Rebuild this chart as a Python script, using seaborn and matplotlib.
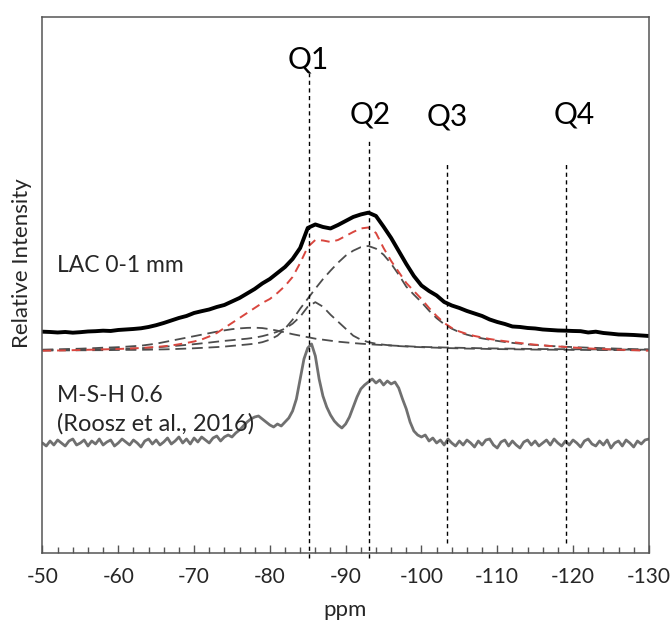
import numpy as np
import pandas as pd
import matplotlib
matplotlib.use("Agg")
import matplotlib.pyplot as plt
import seaborn as sns
from matplotlib.ticker import MultipleLocator

# ---------------------------------------------------------------- data
# chemical shift grid (ppm), 1 ppm steps for the LAC spectrum and the fit
ppm = list(range(-50, -131, -1))

# LAC 0-1 mm, measured 29Si spectrum (offset above the fit)
lac = [221.3, 221.0, 220.5, 221.0, 220.3, 220.8, 221.5, 221.8, 222.3, 222.0,
       223.0, 223.5, 224.0, 224.7, 226.0, 227.8, 230.0, 232.5, 235.0, 237.0,
       240.0, 241.8, 243.5, 246.0, 248.0, 251.5, 255.0, 259.5, 264.0, 269.5,
       274.0, 280.0, 286.0, 294.0, 305.0, 325.0, 328.5, 326.0, 324.5, 328.0,
       332.0, 336.0, 338.5, 340.3, 337.0, 326.3, 315.0, 302.0, 289.0, 277.0,
       267.5, 262.0, 257.5, 251.0, 247.5, 245.0, 242.0, 239.5, 237.0, 233.5,
       231.0, 229.0, 226.5, 226.0, 225.0, 224.5, 223.5, 223.0, 222.5, 222.3,
       222.0, 221.8, 220.5, 221.3, 220.0, 219.3, 218.5, 218.3, 218.0, 217.5,
       217.0]

# fitted envelope (red dashed)
fit_sum = [202.3, 202.4, 202.5, 202.6, 202.8, 203.0, 203.2, 203.4, 203.6, 203.8,
           204.0, 204.3, 204.6, 205.0, 205.5, 206.0, 206.7, 207.5, 208.7, 210.0,
           211.5, 213.5, 216.5, 220.0, 225.0, 230.0, 235.0, 240.0, 245.0, 250.0,
           254.0, 260.0, 267.0, 276.0, 290.0, 306.0, 313.0, 312.5, 311.0, 313.0,
           317.0, 321.0, 324.5, 325.5, 320.0, 305.0, 292.0, 281.0, 270.0, 262.0,
           254.0, 245.0, 237.0, 230.0, 225.0, 221.5, 219.0, 217.0, 215.5, 214.0,
           212.8, 211.8, 210.8, 210.0, 209.0, 208.3, 207.7, 207.0, 206.5, 206.0,
           205.5, 205.0, 204.6, 204.2, 203.9, 203.6, 203.3, 203.0, 202.8, 202.5,
           202.3]

# individual fit components (grey dashed), baseline of the fit = 202.3
fit_base = 202.3
comp_q1a = [1.0, 1.2, 1.4, 1.6, 1.8, 2.0, 2.3, 2.6, 3.0, 3.2,
            3.5, 4.0, 4.5, 5.0, 6.0, 7.0, 8.5, 10.0, 11.5, 13.0,
            14.5, 16.0, 17.5, 19.0, 20.3, 21.5, 22.3, 22.8, 23.0, 22.6,
            21.5, 20.0, 18.3, 16.5, 15.0, 13.5, 12.0, 11.0, 10.0, 9.0,
            8.3, 7.6, 7.0, 6.5, 6.0, 5.6, 5.2, 4.8, 4.5, 4.1,
            3.8, 3.6, 3.4, 3.2, 3.0, 2.9, 2.7, 2.6, 2.4, 2.3,
            2.2, 2.1, 2.0, 1.9, 1.8, 1.7, 1.6, 1.6, 1.5, 1.5,
            1.4, 1.4, 1.3, 1.3, 1.2, 1.2, 1.1, 1.1, 1.0, 1.0,
            1.0]
comp_q1b = [0.5, 0.6, 0.7, 0.8, 0.9, 1.0, 1.2, 1.3, 1.5, 1.6,
            1.8, 2.0, 2.2, 2.5, 2.9, 3.3, 3.9, 4.5, 5.1, 5.8,
            6.5, 7.3, 8.1, 9.0, 9.8, 10.5, 11.3, 12.0, 13.0, 14.5,
            16.5, 19.0, 22.0, 27.0, 34.0, 44.0, 48.5, 44.0, 36.0, 29.0,
            22.0, 15.0, 11.0, 8.5, 7.0, 6.0, 5.2, 4.6, 4.2, 3.8,
            3.5, 3.2, 3.0, 2.7, 2.5, 2.3, 2.1, 2.0, 1.9, 1.7,
            1.6, 1.5, 1.4, 1.3, 1.2, 1.1, 1.0, 1.0, 0.9, 0.9,
            0.8, 0.8, 0.7, 0.7, 0.6, 0.6, 0.6, 0.5, 0.5, 0.5,
            0.4]
comp_q2 = [0.2, 0.2, 0.3, 0.3, 0.3, 0.4, 0.4, 0.5, 0.5, 0.6,
           0.7, 0.8, 0.8, 0.9, 1.0, 1.2, 1.3, 1.5, 1.8, 2.1,
           2.4, 2.8, 3.2, 3.6, 4.1, 4.8, 5.5, 6.2, 7.0, 8.5,
           11.0, 15.0, 22.0, 31.0, 42.0, 52.0, 62.0, 71.5, 80.0, 88.0,
           95.0, 100.0, 103.5, 104.7, 102.0, 96.0, 87.0, 76.0, 64.0, 56.0,
           48.5, 40.0, 32.5, 26.5, 22.0, 18.5, 16.0, 14.0, 12.3, 11.0,
           9.8, 8.7, 7.8, 7.0, 6.3, 5.7, 5.2, 4.7, 4.3, 3.9,
           3.6, 3.3, 3.0, 2.8, 2.5, 2.3, 2.0, 1.8, 1.6, 1.4,
           1.3]

# M-S-H 0.6 reference spectrum (Roosz et al., 2016), 0.5 ppm steps
msh_ppm = [-50 - 0.5 * i for i in range(161)]
msh = [110, 107, 112, 108, 113, 110, 107, 112, 114, 108,
       110, 113, 107, 112, 109, 114, 108, 111, 113, 107,
       110, 114, 111, 108, 113, 110, 106, 112, 114, 109,
       113, 108, 111, 115, 109, 112, 116, 110, 114, 109,
       115, 111, 116, 113, 110, 115, 117, 112, 116, 118,
       116, 120, 123, 127, 131, 134, 136, 137, 134, 131,
       128, 126, 129, 127, 131, 135, 142, 154, 174, 194,
       205, 209, 197, 174, 157, 146, 138, 132, 128, 125,
       129, 136, 146, 156, 164, 168, 171, 174, 170, 173,
       168, 172, 169, 171, 165, 154, 144, 131, 122, 118,
       116, 118, 112, 115, 110, 113, 108, 114, 110, 107,
       112, 108, 113, 110, 106, 112, 108, 113, 114, 108,
       105, 111, 113, 107, 112, 108, 105, 111, 113, 108,
       112, 107, 110, 113, 108, 114, 110, 107, 112, 108,
       113, 110, 106, 112, 114, 109, 107, 112, 108, 113,
       105, 110, 112, 107, 113, 110, 106, 112, 109, 113,
       114]

# Qn site positions (ppm) and their labels
q_names = ["Q1", "Q2", "Q3", "Q4"]
q_ppm = [-85.2, -93.1, -103.4, -119.1]

# sample labels
label_lac = "LAC 0-1 mm"
label_msh = "M-S-H 0.6"
label_ref = "(Roosz et al., 2016)"

# ---------------------------------------------------------------- style
sns.set_theme(style="white")
plt.rcParams["font.family"] = ["Lato", "DejaVu Sans"]

fig = plt.figure(figsize=(6.7, 6.27), dpi=100)
ax = fig.add_axes([0.0634, 0.118, 0.905, 0.855])

fit_df = pd.DataFrame({
    "ppm": ppm,
    "lac": lac,
    "sum": fit_sum,
    "q1a": [fit_base + v for v in comp_q1a],
    "q1b": [fit_base + v for v in comp_q1b],
    "q2": [fit_base + v for v in comp_q2],
})
msh_df = pd.DataFrame({"ppm": msh_ppm, "msh": msh})

grey_dash = (0, (6, 3.2))
for col in ["q1a", "q1b", "q2"]:
    sns.lineplot(data=fit_df, x="ppm", y=col, ax=ax, color="#4d4d4d",
                 linewidth=1.3, linestyle=grey_dash, sort=False)
sns.lineplot(data=fit_df, x="ppm", y="sum", ax=ax, color="#d9463e",
             linewidth=1.4, linestyle=(0, (4.5, 3)), sort=False)
sns.lineplot(data=fit_df, x="ppm", y="lac", ax=ax, color="black",
             linewidth=2.8, sort=False)
sns.lineplot(data=msh_df, x="ppm", y="msh", ax=ax, color="#707070",
             linewidth=2.0, sort=False)

# Qn reference lines and labels
q_line_top = [480, 413, 390, 390]
q_line_bottom = [-5, -5, 10, 10]
q_text_x = [-85.05, -93.2, -103.4, -120.2]
q_text_y = [493, 438, 436, 438]
for name, x, top, bot, tx, ty in zip(q_names, q_ppm, q_line_top, q_line_bottom,
                                     q_text_x, q_text_y):
    ax.plot([x, x], [bot, top], color="black", linewidth=1.0,
            linestyle=(0, (3, 2.5)), clip_on=False, zorder=5)
    ax.text(tx, ty, name, ha="center", va="center", fontsize=21.5, color="black")

ax.text(-51.9, 287, label_lac, ha="left", va="center", fontsize=16.5)
ax.text(-51.9, 157.5, label_msh, ha="left", va="center", fontsize=16.5)
ax.text(-51.9, 129, label_ref, ha="left", va="center", fontsize=17)

# axes
ax.set_xlim(-50, -130)
ax.set_ylim(0, 536)
ax.set_yticks([])
ax.set_xticks(list(range(-50, -131, -10)))
ax.set_xticklabels([str(v) for v in range(-50, -131, -10)])
ax.xaxis.set_minor_locator(MultipleLocator(2))
ax.tick_params(axis="x", which="major", direction="in", length=6, width=1,
               color="#555555", pad=10, labelsize=15, bottom=True)
ax.tick_params(axis="x", which="minor", direction="in", length=4, width=1,
               color="#555555", bottom=True)
ax.set_xlabel("")
ax.set_ylabel("")
for s in ax.spines.values():
    s.set_color("#555555")
    s.set_linewidth(1.1)

fig.text(345 / 670, 1 - 610 / 627, "ppm", ha="center", va="center", fontsize=16)
fig.text(22 / 670, 1 - 263 / 627, "Relative Intensity", ha="center",
         va="center", rotation=90, fontsize=16)

fig.savefig("out.png", dpi=100)
